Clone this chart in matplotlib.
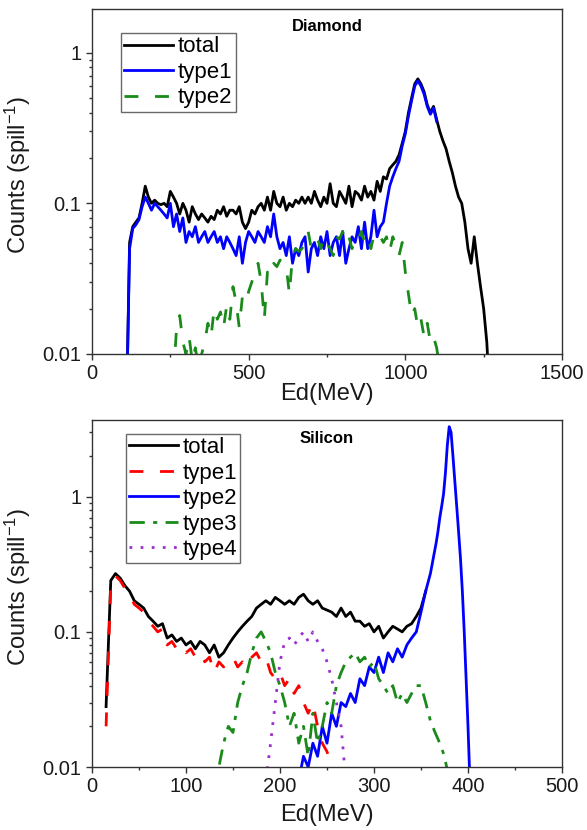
import numpy as np
import matplotlib
matplotlib.use("Agg")
import matplotlib.pyplot as plt
from matplotlib.ticker import LogLocator, FixedLocator, FuncFormatter, MultipleLocator

plt.rcParams['font.family'] = ['Liberation Sans', 'DejaVu Sans']
plt.rcParams['mathtext.default'] = 'regular'

# ---------------- Diamond ----------------
dia_x = np.arange(110, 1271, 10)
dia_total = [
    0.004, 0.055, 0.07, 0.075, 0.08, 0.1, 0.13, 0.11, 0.1, 0.105,
    0.1, 0.098, 0.1, 0.095, 0.12, 0.11, 0.1, 0.085, 0.1, 0.09,
    0.075, 0.095, 0.085, 0.078, 0.085, 0.08, 0.075, 0.082, 0.078, 0.09,
    0.085, 0.095, 0.082, 0.09, 0.09, 0.085, 0.095, 0.075, 0.068, 0.075,
    0.09, 0.085, 0.095, 0.1, 0.09, 0.11, 0.09, 0.12, 0.1, 0.095,
    0.11, 0.09, 0.1, 0.095, 0.105, 0.1, 0.11, 0.1, 0.11, 0.1,
    0.12, 0.105, 0.095, 0.11, 0.1, 0.135, 0.1, 0.095, 0.12, 0.11,
    0.1, 0.13, 0.095, 0.12, 0.115, 0.105, 0.13, 0.11, 0.12, 0.105,
    0.14, 0.12, 0.15, 0.145, 0.17, 0.18, 0.19, 0.21, 0.25, 0.3,
    0.4, 0.5, 0.62, 0.67, 0.62, 0.55, 0.45, 0.4, 0.44, 0.36,
    0.3, 0.26, 0.23, 0.19, 0.16, 0.13, 0.11, 0.1, 0.075, 0.05,
    0.04, 0.06, 0.04, 0.028, 0.02, 0.012, 0.005,
]
dia_t1_x = np.arange(110, 1101, 10)
dia_type1 = [
    0.004, 0.05, 0.068, 0.072, 0.078, 0.095, 0.11, 0.1, 0.09, 0.1,
    0.095, 0.09, 0.085, 0.08, 0.1, 0.07, 0.085, 0.065, 0.08, 0.055,
    0.065, 0.06, 0.07, 0.055, 0.06, 0.065, 0.055, 0.06, 0.065, 0.055,
    0.06, 0.05, 0.06, 0.055, 0.05, 0.045, 0.06, 0.04, 0.055, 0.065,
    0.06, 0.055, 0.065, 0.06, 0.055, 0.07, 0.06, 0.085, 0.06, 0.05,
    0.055, 0.045, 0.06, 0.04, 0.05, 0.045, 0.055, 0.06, 0.035, 0.05,
    0.055, 0.045, 0.06, 0.05, 0.065, 0.045, 0.055, 0.06, 0.045, 0.065,
    0.04, 0.05, 0.06, 0.055, 0.07, 0.05, 0.075, 0.05, 0.06, 0.09,
    0.06, 0.07, 0.075, 0.1, 0.13, 0.15, 0.17, 0.19, 0.24, 0.29,
    0.38, 0.48, 0.6, 0.65, 0.6, 0.53, 0.44, 0.39, 0.43, 0.35,
]
dia_t2_x = np.arange(260, 1111, 10)
dia_type2 = [
    0.007, 0.015, 0.018, 0.012, 0.01, 0.013, 0.009, 0.011, 0.008, 0.01,
    0.012, 0.016, 0.013, 0.02, 0.017, 0.019, 0.015, 0.021, 0.017, 0.028,
    0.022, 0.015, 0.024, 0.022, 0.026, 0.03, 0.035, 0.04, 0.03, 0.017,
    0.035, 0.033, 0.04, 0.038, 0.042, 0.04, 0.038, 0.025, 0.045, 0.05,
    0.048, 0.05, 0.055, 0.065, 0.05, 0.055, 0.058, 0.05, 0.06, 0.055,
    0.05, 0.045, 0.06, 0.058, 0.065, 0.055, 0.06, 0.05, 0.06, 0.058,
    0.065, 0.055, 0.06, 0.05, 0.062, 0.058, 0.06, 0.055, 0.06, 0.048,
    0.06, 0.052, 0.045, 0.055, 0.035, 0.025, 0.018, 0.02, 0.015, 0.017,
    0.013, 0.016, 0.012, 0.013, 0.011, 0.008,
]

# ---------------- Silicon ----------------
si_x = np.arange(15, 356, 5)
si_total = [
    0.028, 0.24, 0.27, 0.25, 0.22, 0.2, 0.17, 0.16, 0.15, 0.13,
    0.12, 0.11, 0.115, 0.09, 0.095, 0.085, 0.09, 0.08, 0.085, 0.075,
    0.085, 0.08, 0.07, 0.08, 0.065, 0.07, 0.08, 0.09, 0.1, 0.11,
    0.12, 0.13, 0.15, 0.16, 0.17, 0.16, 0.18, 0.17, 0.16, 0.17,
    0.16, 0.18, 0.19, 0.17, 0.16, 0.17, 0.15, 0.145, 0.14, 0.13,
    0.15, 0.13, 0.14, 0.12, 0.12, 0.11, 0.115, 0.1, 0.11, 0.09,
    0.1, 0.11, 0.105, 0.1, 0.11, 0.115, 0.13, 0.15, 0.2,
]
si_t1_x = np.arange(15, 261, 5)
si_type1 = [
    0.02, 0.23, 0.26, 0.24, 0.21, 0.19, 0.16, 0.15, 0.14, 0.12,
    0.11, 0.1, 0.105, 0.08, 0.085, 0.075, 0.08, 0.07, 0.075, 0.065,
    0.07, 0.06, 0.065, 0.05, 0.06, 0.055, 0.06, 0.065, 0.055, 0.06,
    0.055, 0.065, 0.07, 0.06, 0.065, 0.05, 0.045, 0.05, 0.04, 0.045,
    0.035, 0.04, 0.03, 0.025, 0.03, 0.02, 0.015, 0.013, 0.01, 0.008,
]
si_t2_x = np.concatenate([np.arange(220, 361, 5), np.arange(362, 403, 2)])
si_type2 = [
    0.008, 0.012, 0.01, 0.015, 0.012, 0.02, 0.015, 0.025, 0.02, 0.03,
    0.028, 0.035, 0.03, 0.045, 0.04, 0.055, 0.05, 0.065, 0.05, 0.07,
    0.06, 0.075, 0.065, 0.08, 0.09, 0.1, 0.14, 0.2, 0.27,
    0.32, 0.38, 0.45, 0.55, 0.7, 0.85, 1.05, 1.5, 2.4, 3.3,
    3.0, 2.0, 1.3, 0.85, 0.55, 0.35, 0.2, 0.1, 0.045, 0.02, 0.008,
]
si_t3_x = np.arange(120, 381, 5)
si_type3 = [
    0.008, 0.005, 0.007, 0.01, 0.015, 0.02, 0.018, 0.03, 0.04, 0.05,
    0.07, 0.09, 0.1, 0.085, 0.07, 0.05, 0.04, 0.03, 0.02, 0.025,
    0.015, 0.02, 0.012, 0.025, 0.015, 0.02, 0.03, 0.025, 0.04, 0.05,
    0.06, 0.065, 0.07, 0.06, 0.065, 0.055, 0.06, 0.045, 0.04, 0.035,
    0.04, 0.03, 0.035, 0.03, 0.035, 0.04, 0.04, 0.03, 0.022, 0.018,
    0.015, 0.012, 0.008,
]
si_t4_x = np.arange(185, 271, 5)
si_type4 = [
    0.008, 0.015, 0.03, 0.06, 0.085, 0.09, 0.08, 0.09, 0.1, 0.085,
    0.1, 0.085, 0.075, 0.06, 0.045, 0.03, 0.02, 0.008,
]

BLACK = '#000000'
BLUE = '#0000ff'
RED = '#ff0000'
GREEN = '#1a8a1a'
PURPLE = '#9a2fd0'
SPINE = '#333333'

fig = plt.figure(figsize=(5.87, 8.30), dpi=100)
ax1 = fig.add_axes([0.1567, 0.5735, 0.8007, 0.4157])
ax2 = fig.add_axes([0.1567, 0.0759, 0.8007, 0.4181])

LW = 2.0
ax1.plot(dia_x, dia_total, color=BLACK, lw=LW, label='total')
ax1.plot(dia_t1_x, dia_type1, color=BLUE, lw=LW, label='type1')
ax1.plot(dia_t2_x, dia_type2, color=GREEN, lw=LW, dashes=(5, 6), label='type2')

ax2.plot(si_x, si_total, color=BLACK, lw=LW, label='total')
ax2.plot(si_t1_x, si_type1, color=RED, lw=LW, dashes=(5, 6), label='type1')
ax2.plot(si_t2_x, si_type2, color=BLUE, lw=LW, label='type2')
ax2.plot(si_t3_x, si_type3, color=GREEN, lw=LW, dashes=(5.5, 3, 1.5, 3), label='type3')
ax2.plot(si_t4_x, si_type4, color=PURPLE, lw=LW, dashes=(1, 3), label='type4')


def fmt(v, pos):
    return '%g' % v


for ax, xmax, xmaj, ymax in [(ax1, 1500, 500, 1.95), (ax2, 500, 100, 3.7)]:
    ax.set_yscale('log')
    ax.set_xlim(0, xmax)
    ax.set_ylim(0.01, ymax)
    ax.xaxis.set_major_locator(MultipleLocator(xmaj))
    ax.xaxis.set_minor_locator(MultipleLocator(xmaj / 2))
    ax.yaxis.set_major_locator(FixedLocator([0.01, 0.1, 1]))
    ax.yaxis.set_major_formatter(FuncFormatter(fmt))
    ax.yaxis.set_minor_locator(LogLocator(base=10, subs=np.arange(2, 10)))
    ax.yaxis.set_minor_formatter(FuncFormatter(lambda v, p: ''))
    for s in ax.spines.values():
        s.set_color(SPINE)
        s.set_linewidth(1.0)
    ax.tick_params(which='major', direction='out', length=4.5, width=1.0,
                   color=SPINE, labelsize=14.5, pad=3, labelcolor='#1a1a1a')
    ax.tick_params(which='minor', direction='out', length=2.5, width=1.0, color=SPINE)
    ax.set_xlabel('Ed(MeV)', fontsize=17, color='#1a1a1a')
    ax.set_ylabel('Counts (spill$^{-1}$)', fontsize=17, color='#1a1a1a')
    ax.yaxis.set_label_coords(-0.125, 0.52)

ax1.xaxis.set_label_coords(0.5, -0.085)
ax2.xaxis.set_label_coords(0.5, -0.108)

ax1.text(0.5, 0.95, 'Diamond', transform=ax1.transAxes, ha='center', va='center',
         fontsize=12, fontweight='bold')
ax2.text(0.5, 0.948, 'Silicon', transform=ax2.transAxes, ha='center', va='center',
         fontsize=12, fontweight='bold')

leg_kw = dict(loc='upper left', fontsize=16, frameon=True, fancybox=False,
              handlelength=2.2, handletextpad=0.2, labelspacing=0.2,
              borderpad=0.15, borderaxespad=0)
l1 = ax1.legend(bbox_to_anchor=(0.062, 0.93), **leg_kw)
l2 = ax2.legend(bbox_to_anchor=(0.072, 0.96), **leg_kw)
for lg in (l1, l2):
    lg.get_frame().set_edgecolor('#444444')
    lg.get_frame().set_linewidth(1.0)

fig.savefig('out.png', dpi=100)
